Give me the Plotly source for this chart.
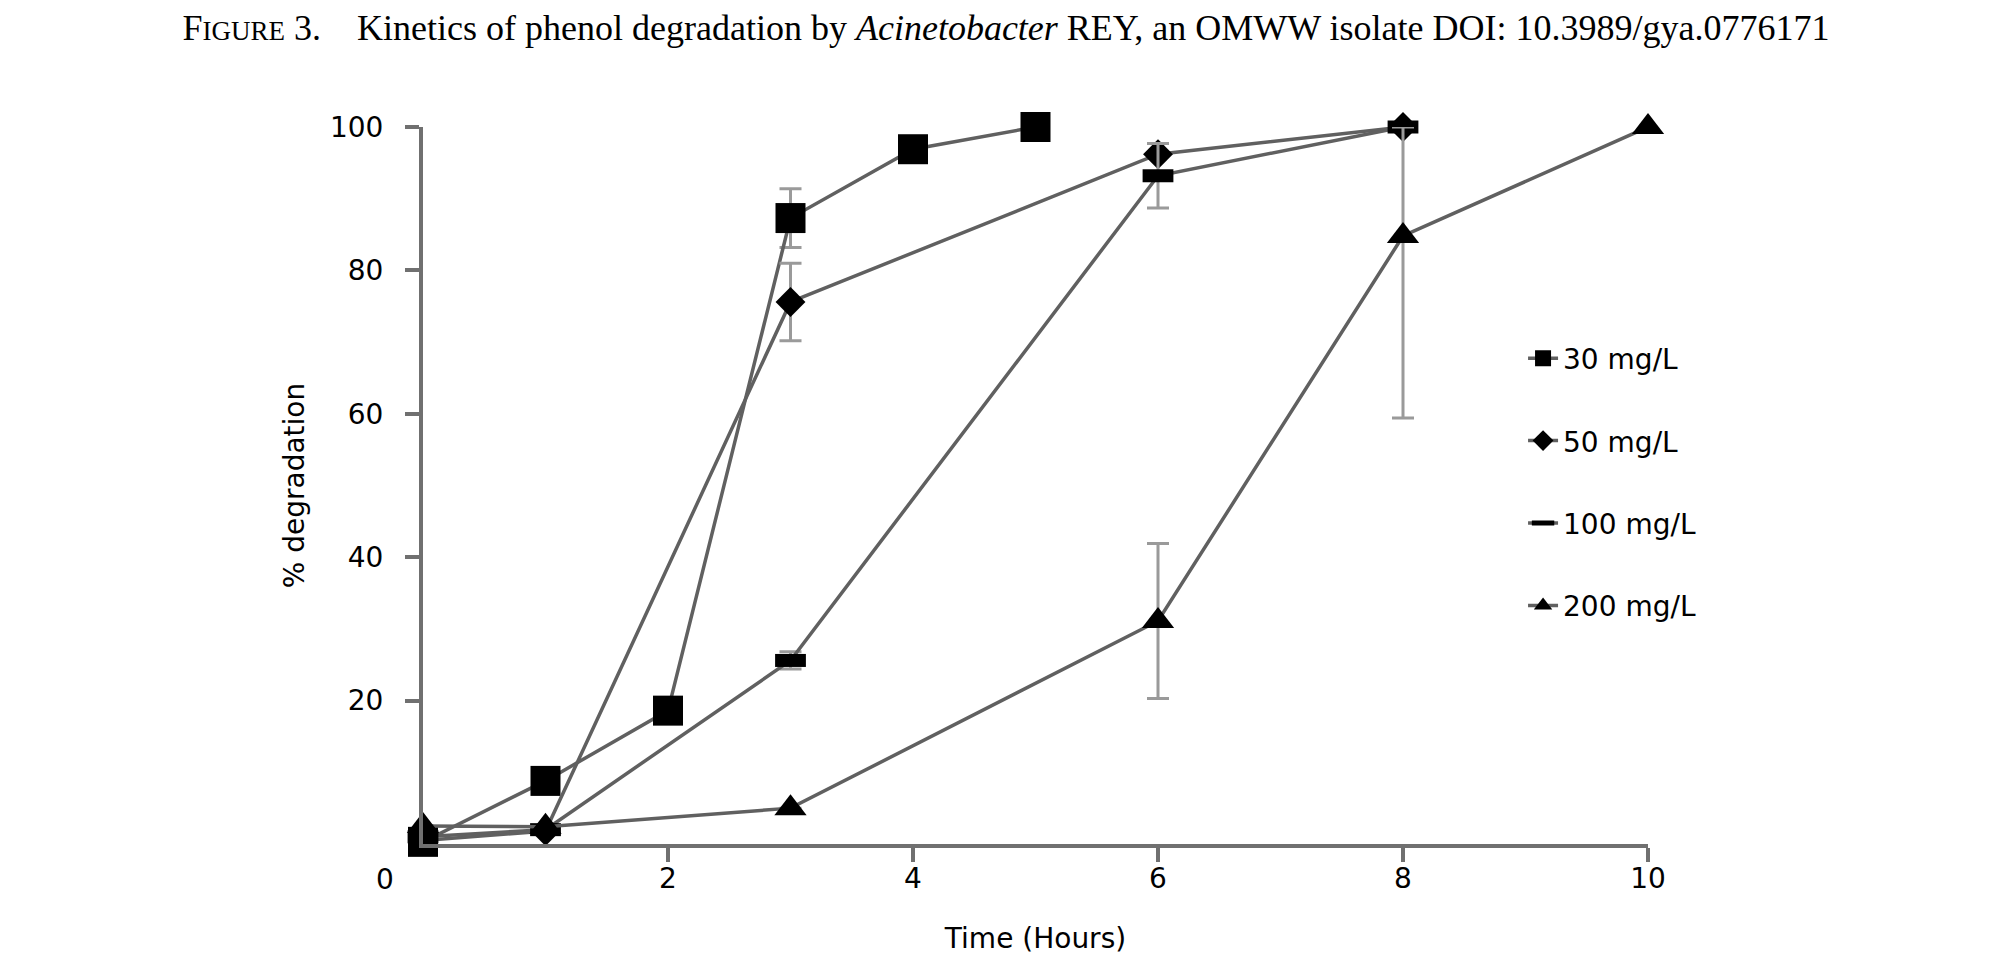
import plotly.graph_objects as go

# time points (hours) for each phenol concentration
t_30 = [0, 1, 2, 3, 4, 5]
deg_30 = [0.3, 8.8, 18.6, 87.3, 96.9, 100]
err_30_up = [0, 0, 0, 4.1, 0, 0]
err_30_dn = [0, 0, 0, 4.1, 0, 0]

t_50 = [0, 1, 3, 6, 8]
deg_50 = [0.5, 1.8, 75.6, 96.2, 100]
err_50_up = [0, 0, 5.4, 0, 0]
err_50_dn = [0, 0, 5.4, 0, 0]

t_100 = [0, 1, 3, 6, 8]
deg_100 = [1.0, 2.0, 25.6, 93.2, 100]
err_100_up = [0, 0, 1.2, 4.5, 0]
err_100_dn = [0, 0, 1.2, 4.5, 0]

t_200 = [0, 1, 3, 6, 8, 10]
deg_200 = [2.5, 2.4, 5.0, 31.1, 84.8, 100]
err_200_up = [0, 0, 0, 10.8, 15.2, 0]
err_200_dn = [0, 0, 0, 10.8, 25.4, 0]

x_ticks = [2, 4, 6, 8, 10]
y_ticks = [20, 40, 60, 80, 100]

LINE = "#606060"
ERR = "#9a9a9a"
AXIS = "#707070"
SANS = "DejaVu Sans, Liberation Sans, Arial, sans-serif"

series = [
    ("30 mg/L", t_30, deg_30, err_30_up, err_30_dn, dict(symbol="square", size=30)),
    ("50 mg/L", t_50, deg_50, err_50_up, err_50_dn, dict(symbol="diamond", size=23)),
    ("100 mg/L", t_100, deg_100, err_100_up, err_100_dn,
     dict(symbol="line-ew", size=22, line=dict(width=13, color="black"))),
    ("200 mg/L", t_200, deg_200, err_200_up, err_200_dn, dict(symbol="triangle-up", size=28)),
]

fig = go.Figure()

for name, x, y, eu, ed, mk in series:
    fig.add_trace(go.Scatter(
        x=x, y=y, name=name, mode="lines+markers",
        legendgroup=name,
        line=dict(color=LINE, width=3.5),
        marker=dict(color="black", **mk),
        error_y=dict(type="data", symmetric=False, array=eu, arrayminus=ed,
                     color=ERR, thickness=3, width=11),
        cliponaxis=False,
    ))

title = ("F<span style='font-size:27px'>IGURE</span> 3.\u00a0\u00a0\u00a0\u00a0"
         "Kinetics of phenol degradation by <i>Acinetobacter</i> REY, "
         "an OMWW isolate DOI: 10.3989/gya.0776171")

fig.update_layout(
    width=1996, height=953,
    margin=dict(l=415, r=356, t=119, b=117),
    paper_bgcolor="white", plot_bgcolor="white",
    font=dict(family=SANS, size=28, color="black"),
    title=dict(text=title, x=0.5, xref="container", xanchor="center",
               y=1, yref="container", yanchor="top", pad=dict(t=7),
               font=dict(family="Liberation Serif, Times New Roman, serif", size=36, color="black")),
    legend=dict(x=0.898, xanchor="left", y=0.712, yanchor="top",
                font=dict(family=SANS, size=28, color="black"),
                tracegroupgap=43, bgcolor="rgba(0,0,0,0)", itemwidth=30),
    showlegend=True,
)

fig.update_xaxes(
    range=[0, 10], tickvals=x_ticks, ticks="outside", ticklen=14, tickwidth=4,
    tickcolor=AXIS, showline=True, linewidth=4, linecolor=AXIS,
    showgrid=False, zeroline=False, ticklabelstandoff=-8, automargin=False,
    title=dict(text="Time (Hours)", standoff=36, font=dict(size=28)),
)
fig.update_yaxes(
    range=[0, 100], tickvals=y_ticks, ticks="outside", ticklen=14, tickwidth=4,
    tickcolor=AXIS, showline=True, linewidth=4, linecolor=AXIS,
    showgrid=False, zeroline=False, ticklabelstandoff=16, automargin=False,
    title=dict(text="% degradation", standoff=18, font=dict(size=28)),
)

# shared origin label sits left of the corner, as in the original
fig.add_annotation(x=0, y=0, xref="x", yref="y", text="0", showarrow=False,
                   xshift=-38, yshift=-35, font=dict(family=SANS, size=28, color="black"))

fig.write_html("out.html")
